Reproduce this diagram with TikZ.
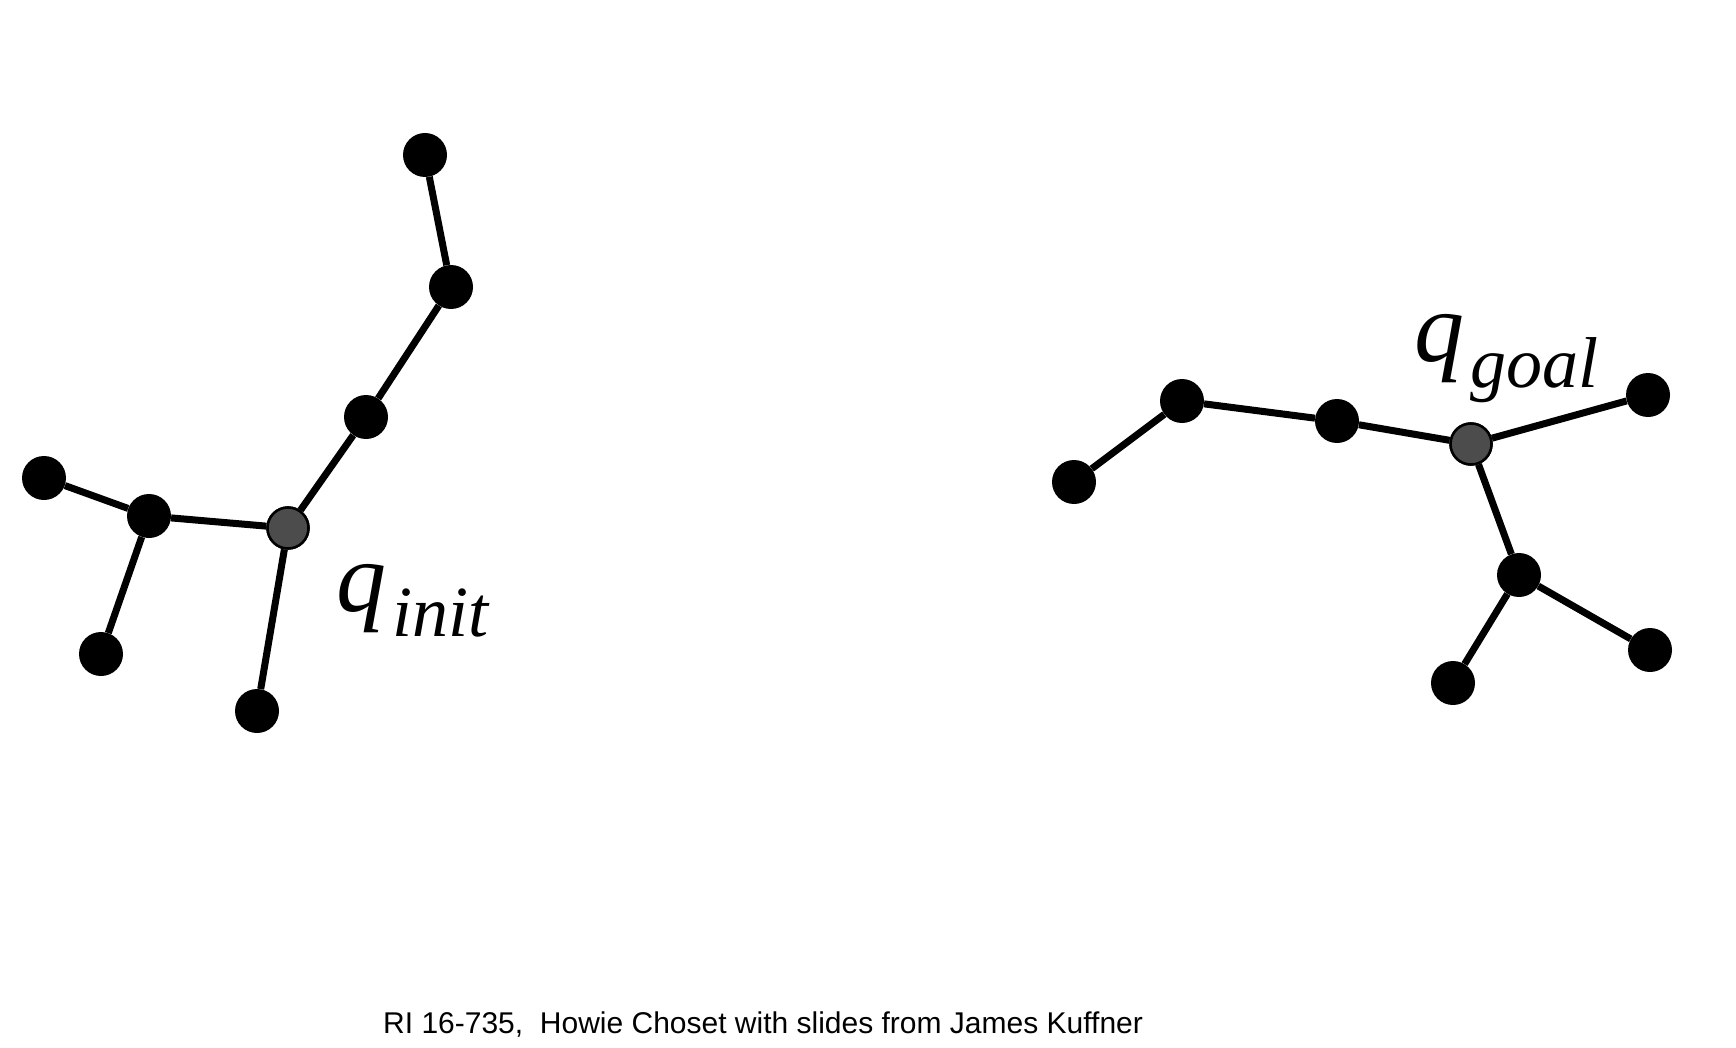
\documentclass[tikz,border=0pt]{standalone}
\usepackage{fontspec}
\setmainfont{Liberation Serif}
\newfontfamily\footfont{Liberation Sans}

\begin{document}
\begin{tikzpicture}[x=1pt, y=-1pt,
	vertex/.style={circle, fill=black, inner sep=0pt, minimum size=44pt},
	root/.style={circle, fill=black!70, draw=black, line width=2.5pt, inner sep=0pt, minimum size=41pt},
	edge/.style={line width=7pt}]
		\useasboundingbox (0,0) rectangle (1736,1048);
		\def\initTree{a1/425/155, a2/451/287, a3/366/417, a4/149/516, a5/44/478, a6/101/654, a7/257/711}
		\def\goalTree{b1/1074/482, b2/1182/401, b3/1337/421, b4/1648/395, b5/1519/575, b6/1453/683, b7/1650/650}
		\node[root] (init) at (288,528) {};
		\node[root] (goal) at (1471,444) {};
		\foreach \name/\x/\y in \initTree
		\node[vertex] (\name) at (\x,\y) {};
		\foreach \name/\x/\y in \goalTree
		\node[vertex] (\name) at (\x,\y) {};
		% tree edges
		\foreach \a/\b in {a1/a2, a2/a3, a3/init, init/a4, a4/a5, a4/a6, init/a7, b1/b2, b2/b3, b3/goal, goal/b4, goal/b5, b5/b6, b5/b7}
		\draw[edge] (\a) -- (\b);
		\foreach \n in {init, goal}
		\node[root] at (\n) {};
		% labels
		\node[anchor=base west, inner sep=0pt] (initlabel) at (336,611)
			{\fontsize{100}{100}\selectfont\itshape q\kern6pt\raisebox{-25pt}{\fontsize{72}{72}\selectfont init}};
		\node[anchor=base west, inner sep=0pt] (goallabel) at (1414,361)
			{\fontsize{100}{100}\selectfont\itshape q\kern6pt\raisebox{-26pt}{\fontsize{72}{72}\selectfont goal}};
		\node[anchor=base west, inner sep=0pt] (credits) at (383,1033)
			{\footfont\fontsize{30}{32}\selectfont RI 16-735,\ \ Howie Choset with slides from James Kuffner};
	\end{tikzpicture}
\end{document}
